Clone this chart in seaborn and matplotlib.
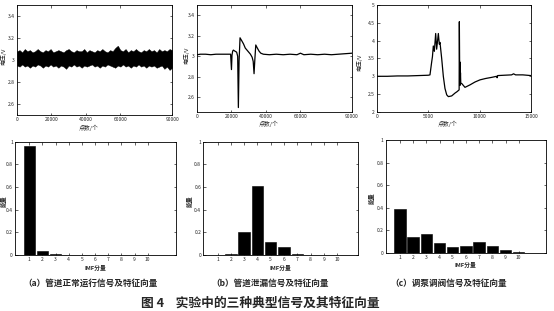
import numpy as np
import pandas as pd
import matplotlib
matplotlib.use("Agg")
import matplotlib.pyplot as plt
import seaborn as sns
from matplotlib.ticker import FuncFormatter

# ---------------- data ----------------
# (a) normal operation: noise band envelope (upper / lower), 0..90000 points
noise_upper = [3.08, 3.09, 3.07, 3.10, 3.08, 3.09, 3.07, 3.08, 3.10, 3.08, 3.07, 3.09, 3.08, 3.10, 3.07,
               3.08, 3.09, 3.08, 3.07, 3.09, 3.10, 3.08, 3.07, 3.09, 3.08, 3.08, 3.10, 3.07, 3.09, 3.08,
               3.07, 3.09, 3.08, 3.10, 3.08, 3.07, 3.09, 3.08, 3.11, 3.13, 3.09, 3.08, 3.10, 3.07, 3.09,
               3.08, 3.10, 3.08, 3.07, 3.09, 3.08, 3.10, 3.08, 3.09, 3.07, 3.10, 3.08, 3.09, 3.08, 3.10, 3.09]
noise_lower = [2.95, 2.94, 2.96, 2.94, 2.95, 2.93, 2.95, 2.94, 2.96, 2.95, 2.93, 2.95, 2.94, 2.96, 2.94,
               2.95, 2.93, 2.95, 2.94, 2.92, 2.95, 2.94, 2.96, 2.94, 2.95, 2.93, 2.95, 2.94, 2.95, 2.96,
               2.94, 2.95, 2.93, 2.95, 2.94, 2.96, 2.95, 2.94, 2.93, 2.95, 2.94, 2.96, 2.94, 2.95, 2.93,
               2.95, 2.94, 2.96, 2.94, 2.95, 2.93, 2.95, 2.94, 2.95, 2.93, 2.94, 2.95, 2.92, 2.94, 2.91, 2.93]

# (b) leak signal
leak_x = [0, 2000, 5000, 8000, 11000, 14000, 17000, 19500, 20000, 20300, 20700, 21100, 22000, 23000,
          23600, 24000, 24400, 24970, 26000, 27000, 28000, 29000, 30000, 31000, 32000, 32600, 33100,
          33600, 34100, 35000, 36000, 37000, 38500, 42000, 46000, 50000, 54000, 58000, 60000, 62000,
          66000, 70000, 74000, 78000, 82000, 86000, 90000]
leak_y = [3.015, 3.02, 3.02, 3.015, 3.02, 3.02, 3.02, 3.02, 2.87, 3.01, 3.05, 3.06, 3.05, 3.04,
          3.00, 2.50, 2.95, 3.18, 3.15, 3.12, 3.08, 3.06, 3.04, 3.02, 2.99, 2.95, 2.83,
          2.98, 3.11, 3.08, 3.05, 3.03, 3.02, 3.015, 3.02, 3.015, 3.02, 3.015, 3.03, 3.015,
          3.02, 3.015, 3.02, 3.015, 3.02, 3.025, 3.03]

# (c) pump / valve adjustment signal
pump_x = [0, 1000, 2000, 3000, 4000, 5000, 5160, 5325, 5400, 5485, 5585, 5715, 5810, 5975, 6070,
          6135, 6300, 6460, 6620, 6790, 6950, 7275, 7600, 7800, 7920, 8000, 8020, 8060, 8080, 8100,
          8130, 8160, 8245, 8570, 9060, 9545, 10030, 10600, 11170, 11650, 11700, 11750, 12400,
          13110, 13300, 13500, 14200, 15000]
pump_y = [3.0, 3.0, 3.01, 3.01, 3.02, 3.03, 3.04, 3.40, 3.55, 3.85, 3.70, 4.20, 3.76, 4.20, 3.90,
          3.95, 3.50, 3.00, 2.66, 2.48, 2.43, 2.45, 2.53, 2.57, 2.60, 2.62, 4.53, 2.80, 3.40, 2.75,
          3.10, 2.80, 2.80, 2.69, 2.76, 2.84, 2.90, 2.94, 2.97, 3.00, 2.96, 3.02, 3.03,
          3.04, 3.07, 3.04, 3.04, 3.02]

# IMF energy feature vectors
imf_labels = ["1", "2", "3", "4", "5", "6", "7", "8", "9", "10"]
energy_a = [0.96, 0.035, 0.008, 0.003, 0.003, 0.002, 0.002, 0.002, 0.001, 0.001]
energy_b = [0.002, 0.005, 0.20, 0.61, 0.113, 0.075, 0.005, 0.002, 0.001, 0.001]
energy_c = [0.39, 0.142, 0.166, 0.083, 0.05, 0.059, 0.092, 0.062, 0.02, 0.003]

captions = ["（a）管道正常运行信号及特征向量", "（b）管道泄漏信号及特征向量", "（c）调泵调阀信号及特征向量"]
title = "图 4    实验中的三种典型信号及其特征向量"

# ---------------- style ----------------
sns.set_style("ticks")
plt.rcParams["font.family"] = ["Noto Sans CJK SC", "DejaVu Sans"]
plt.rcParams["axes.linewidth"] = 0.6
plt.rcParams["xtick.direction"] = "in"
plt.rcParams["ytick.direction"] = "in"
plt.rcParams["xtick.major.size"] = 1.8
plt.rcParams["ytick.major.size"] = 1.8
plt.rcParams["xtick.major.width"] = 0.5
plt.rcParams["ytick.major.width"] = 0.5
plt.rcParams["xtick.major.pad"] = 1.5
plt.rcParams["ytick.major.pad"] = 1.5

fig = plt.figure(figsize=(5.54, 3.11), dpi=100)
fmt = FuncFormatter(lambda v, p: f"{v:g}")
TICK_FS = 3.6
LAB_FS = 4.2


def style(ax):
    ax.tick_params(labelsize=TICK_FS, top=True, right=True)
    for s in ax.spines.values():
        s.set_visible(True)
        s.set_color("black")
        s.set_linewidth(0.6)
    ax.yaxis.set_major_formatter(fmt)


# top panels
ax1 = fig.add_axes([0.0307, 0.630, 0.280, 0.354])
ax2 = fig.add_axes([0.3556, 0.641, 0.280, 0.343])
ax3 = fig.add_axes([0.6805, 0.640, 0.278, 0.344])

xs_band = np.linspace(0, 90000, len(noise_upper))
ax1.fill_between(xs_band, noise_lower, noise_upper, color="black", lw=0.3)
ax1.set_xlim(0, 90000)
ax1.set_ylim(2.5, 3.5)
ax1.set_yticks([2.6, 2.8, 3.0, 3.2, 3.4])
ax1.set_xticks([0, 20000, 40000, 60000, 90000])

leak_df = pd.DataFrame({"x": leak_x, "y": leak_y})
sns.lineplot(data=leak_df, x="x", y="y", ax=ax2, color="black", lw=0.9, sort=False, estimator=None)
ax2.set_xlim(0, 90000)
ax2.set_ylim(2.46, 3.5)
ax2.set_yticks([2.6, 2.8, 3.0, 3.2, 3.4])
ax2.set_xticks([0, 20000, 40000, 60000, 90000])

pump_df = pd.DataFrame({"x": pump_x, "y": pump_y})
sns.lineplot(data=pump_df, x="x", y="y", ax=ax3, color="black", lw=0.9, sort=False, estimator=None)
ax3.set_xlim(0, 15000)
ax3.set_ylim(2, 5)
ax3.set_yticks([2, 2.5, 3, 3.5, 4, 4.5, 5])
ax3.set_xticks([0, 5000, 10000, 15000])

top_ylab = [(-0.07, 0.53), (-0.05, 0.53), (-0.095, 0.46)]
for ax, (lx, ly) in zip((ax1, ax2, ax3), top_ylab):
    style(ax)
    ax.xaxis.set_major_formatter(FuncFormatter(lambda v, p: f"{v:.0f}"))
    ax.set_xlabel("点数/个", fontsize=LAB_FS)
    ax.set_ylabel("电压/V", fontsize=LAB_FS)
    ax.xaxis.set_label_coords(0.46, -0.085)
    ax.yaxis.set_label_coords(lx, ly)

# bottom panels
axa = fig.add_axes([0.0271, 0.180, 0.2906, 0.3643])
axb = fig.add_axes([0.367, 0.180, 0.2798, 0.3643])
axc = fig.add_axes([0.6962, 0.1875, 0.2894, 0.3624])

bot = ((axa, energy_a, 11.15, -0.052), (axb, energy_b, 10.6, -0.065), (axc, energy_c, 11.07, -0.067))
for ax, vals, xmax, lx in bot:
    df = pd.DataFrame({"imf": imf_labels, "energy": vals})
    sns.barplot(data=df, x="imf", y="energy", ax=ax, color="black", width=0.86,
                edgecolor="black", linewidth=0.4, saturation=1)
    ax.set_xlim(-1.08, xmax)
    ax.set_ylim(0, 1)
    ax.set_yticks([0, 0.2, 0.4, 0.6, 0.8, 1.0])
    style(ax)
    ax.set_xlabel("IMF分量", fontsize=LAB_FS, fontweight="bold")
    ax.set_ylabel("能量", fontsize=LAB_FS, fontweight="bold")
    ax.xaxis.set_label_coords(0.5, -0.085)
    ax.yaxis.set_label_coords(lx, 0.48)

# captions
for cx, cap in zip([0.164, 0.487, 0.809], captions):
    fig.text(cx, 0.090, cap, ha="center", va="center", fontsize=6.2, fontweight="bold")
fig.text(0.469, 0.026, title, ha="center", va="center", fontsize=9.2, fontweight="bold")

fig.savefig("out.png", dpi=100)
